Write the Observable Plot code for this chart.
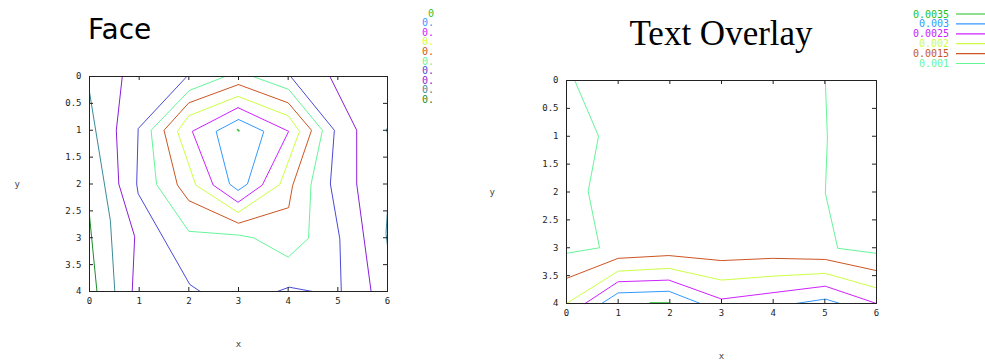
<!DOCTYPE html>
<html>
<head>
<meta charset="utf-8">
<script src="https://cdn.jsdelivr.net/npm/d3@7"></script>
<script src="https://cdn.jsdelivr.net/npm/@observablehq/plot@0.6"></script>
<style>
  html, body { margin: 0; padding: 0; background: #fff; }
  #root { position: relative; width: 985px; height: 360px; overflow: hidden; background: #fff; }
  #root > svg { position: absolute; top: 0; }
</style>
</head>
<body>
<div id="root"></div>
<script>
// ---------- data ----------
const xTicks = [0, 1, 2, 3, 4, 5, 6];
const yTicks = [0, 0.5, 1, 1.5, 2, 2.5, 3, 3.5, 4];

const faceTitle = "Face";
const overlayTitle = "Text Overlay";

const faceLevelLabels = ["0", "0.", "0.", "0.", "0.", "0.", "0.", "0.", "0.", "0."];
const faceColors = ["#30c030", "#3399ff", "#cc22ff", "#ccff44", "#cc5522", "#66f599", "#4a4ad8", "#8a1ed8", "#3a8a9a", "#1e8a2a"];

const overlayLevelLabels = ["0.0035", "0.003", "0.0025", "0.002", "0.0015", "0.001"];
const overlayColors = ["#22c022", "#3399ff", "#cc22ff", "#ccff44", "#cc5522", "#66f599"];

// contour polylines: [level index, [[x, y], ...]]
const faceContours = [
  [0, [[2.98, 0.99], [3.01, 1.01]]],
  [1, [[3, 0.80], [3.51, 1.02], [3.18, 2.0], [2.99, 2.12], [2.82, 2.0], [2.55, 1.02], [3, 0.80]]],
  [2, [[2.99, 0.58], [4.01, 1.02], [3.48, 2.02], [2.99, 2.34], [2.49, 2.02], [2.07, 1.02], [2.99, 0.58]]],
  [3, [[2.99, 0.37], [4.0, 0.73], [4.23, 1.02], [3.83, 2.01], [2.99, 2.53], [2.14, 2.02], [1.77, 1.02], [2.0, 0.73], [2.99, 0.37]]],
  [4, [[3.0, 0.15], [4.0, 0.49], [4.47, 1.0], [4.09, 2.03], [4.01, 2.44], [3.0, 2.73], [2.0, 2.31], [1.77, 2.02], [1.5, 1.0], [2.0, 0.49], [3.0, 0.15]]],
  [5, [[2.73, 0], [2.01, 0.26], [1.24, 1.0], [1.35, 2.01], [2.0, 2.88], [3.0, 2.95], [3.3, 3.0], [4.0, 3.36], [4.41, 3.01], [4.46, 2.01], [4.69, 1.0], [4.01, 0.24], [3.29, 0]]],
  [6, [[1.96, 0], [0.98, 0.97], [0.95, 2.0], [0.98, 2.18], [2.02, 3.87], [2.23, 4.0]]],
  [6, [[4.05, 0], [4.93, 1.0], [4.85, 2.0], [5.04, 3.02], [5.07, 4.0]]],
  [6, [[3.78, 4], [4.02, 3.92], [4.49, 4]]],
  [7, [[0.66, 0], [0.54, 1.0], [0.59, 2.0], [0.91, 2.98], [0.86, 4]]],
  [7, [[4.84, 0], [5.38, 1.0], [5.38, 2.0], [5.67, 4]]],
  [8, [[0, 0.29], [0.42, 2.68], [0.51, 4]]],
  [8, [[6, 2.49], [5.97, 2.92], [6, 3.15]]],
  [8, [[6, 0.95], [5.98, 1.0], [6, 1.05]]],
  [9, [[0, 2.59], [0.15, 4]]]
];

const overlayContours = [
  [0, [[1.62, 3.99], [1.98, 3.99]]],
  [1, [[0.68, 4], [1.0, 3.81], [1.98, 3.78], [2.59, 4]]],
  [1, [[4.44, 4], [5.01, 3.92], [5.29, 4]]],
  [2, [[0.36, 4], [1.0, 3.61], [1.98, 3.58], [3.0, 3.92], [5.01, 3.69], [6, 4]]],
  [3, [[0, 4], [1.0, 3.42], [1.98, 3.37], [3.0, 3.58], [3.99, 3.51], [5.01, 3.46], [6, 3.72]]],
  [4, [[0, 3.55], [1.0, 3.19], [1.98, 3.14], [3.0, 3.23], [3.99, 3.19], [5.01, 3.21], [6, 3.41]]],
  [5, [[0.16, 0], [0.62, 1.0], [0.42, 1.99], [0.64, 3.0], [0, 3.1]]],
  [5, [[5.01, 0], [5.05, 1.03], [5.01, 2.02], [5.25, 3.01], [6, 3.1]]]
];

// ---------- drawing ----------
const MONO = "'DejaVu Sans Mono', monospace";
const fmt = d => String(d);

function panel(contours, colors, W, H, mL, mR, mT, mB, yLabelDx) {
  const rows = contours.flatMap(([k, pts], i) => pts.map(([x, y]) => ({x, y, id: i, c: colors[k], w: k === 0 ? 1.6 : 1})));
  const fw = W - mL - mR, fh = H - mT - mB;
  const tk = 4;
  return Plot.plot({
    width: W, height: H,
    marginLeft: mL, marginRight: mR, marginTop: mT, marginBottom: mB,
    x: {domain: [0, 6]},
    y: {domain: [0, 4], reverse: true},
    color: {type: "identity"},
    style: {background: "transparent", fontFamily: MONO, fontSize: "9px", color: "#222"},
    marks: [
      Plot.line(rows, {x: "x", y: "y", z: "id", stroke: "c", strokeWidth: "w"}),
      Plot.frame({stroke: "#222", strokeWidth: 1}),
      Plot.tickY(yTicks, {y: d => d, insetRight: fw - tk, stroke: "#222"}),
      Plot.tickY(yTicks, {y: d => d, insetLeft: fw - tk, stroke: "#222"}),
      Plot.tickX(xTicks, {x: d => d, insetTop: fh - tk, stroke: "#222"}),
      Plot.tickX(xTicks, {x: d => d, insetBottom: fh - tk, stroke: "#222"}),
      Plot.axisX({ticks: xTicks, tickFormat: fmt, tickSize: 0, tickPadding: 6, label: null, fontFamily: MONO, fontSize: 9}),
      Plot.axisY({ticks: yTicks, tickFormat: fmt, tickSize: 0, tickPadding: 8, label: null, fontFamily: MONO, fontSize: 9}),
      Plot.text(["x"], {text: d => d, frameAnchor: "bottom", dy: 55, fontFamily: MONO, fontSize: 9, fill: "#444"}),
      Plot.text(["y"], {text: d => d, frameAnchor: "left", dx: yLabelDx, fontFamily: MONO, fontSize: 9, fill: "#444"})
    ]
  });
}

const root = document.getElementById("root");

const left = panel(faceContours, faceColors, 480, 360, 89, 93, 76, 69, -75);
left.style.left = "0px";
root.appendChild(left);

const right = panel(overlayContours, overlayColors, 505, 360, 86, 109, 80, 57, -77);
right.style.left = "480px";
root.appendChild(right);

// overlay: titles and legends
const ov = d3.select(root).append("svg")
  .attr("width", 985).attr("height", 360)
  .style("left", "0px").style("pointer-events", "none");

ov.append("text").attr("x", 88).attr("y", 39)
  .attr("font-family", "'DejaVu Sans', sans-serif").attr("font-size", 28)
  .attr("fill", "#000").text(faceTitle);

ov.append("text").attr("x", 721).attr("y", 45).attr("text-anchor", "middle")
  .attr("font-family", "'Liberation Serif', 'Times New Roman', serif").attr("font-size", 35)
  .attr("fill", "#000").text(overlayTitle);

const lg1 = ov.append("g");
faceLevelLabels.forEach((t, i) => {
  lg1.append("text").attr("x", 434).attr("y", 13 + i * 9.6).attr("dy", "0.35em")
    .attr("text-anchor", "end").attr("font-family", MONO).attr("font-size", 10)
    .attr("fill", faceColors[i]).text(t);
});

const lg2 = ov.append("g");
overlayLevelLabels.forEach((t, i) => {
  const y = 14 + i * 9.9;
  lg2.append("text").attr("x", 949).attr("y", y).attr("dy", "0.35em")
    .attr("text-anchor", "end").attr("font-family", MONO).attr("font-size", 10)
    .attr("fill", overlayColors[i]).text(t);
  lg2.append("line").attr("x1", 956).attr("x2", 990).attr("y1", y).attr("y2", y)
    .attr("stroke", overlayColors[i]).attr("stroke-width", 1.2);
});
</script>
</body>
</html>
